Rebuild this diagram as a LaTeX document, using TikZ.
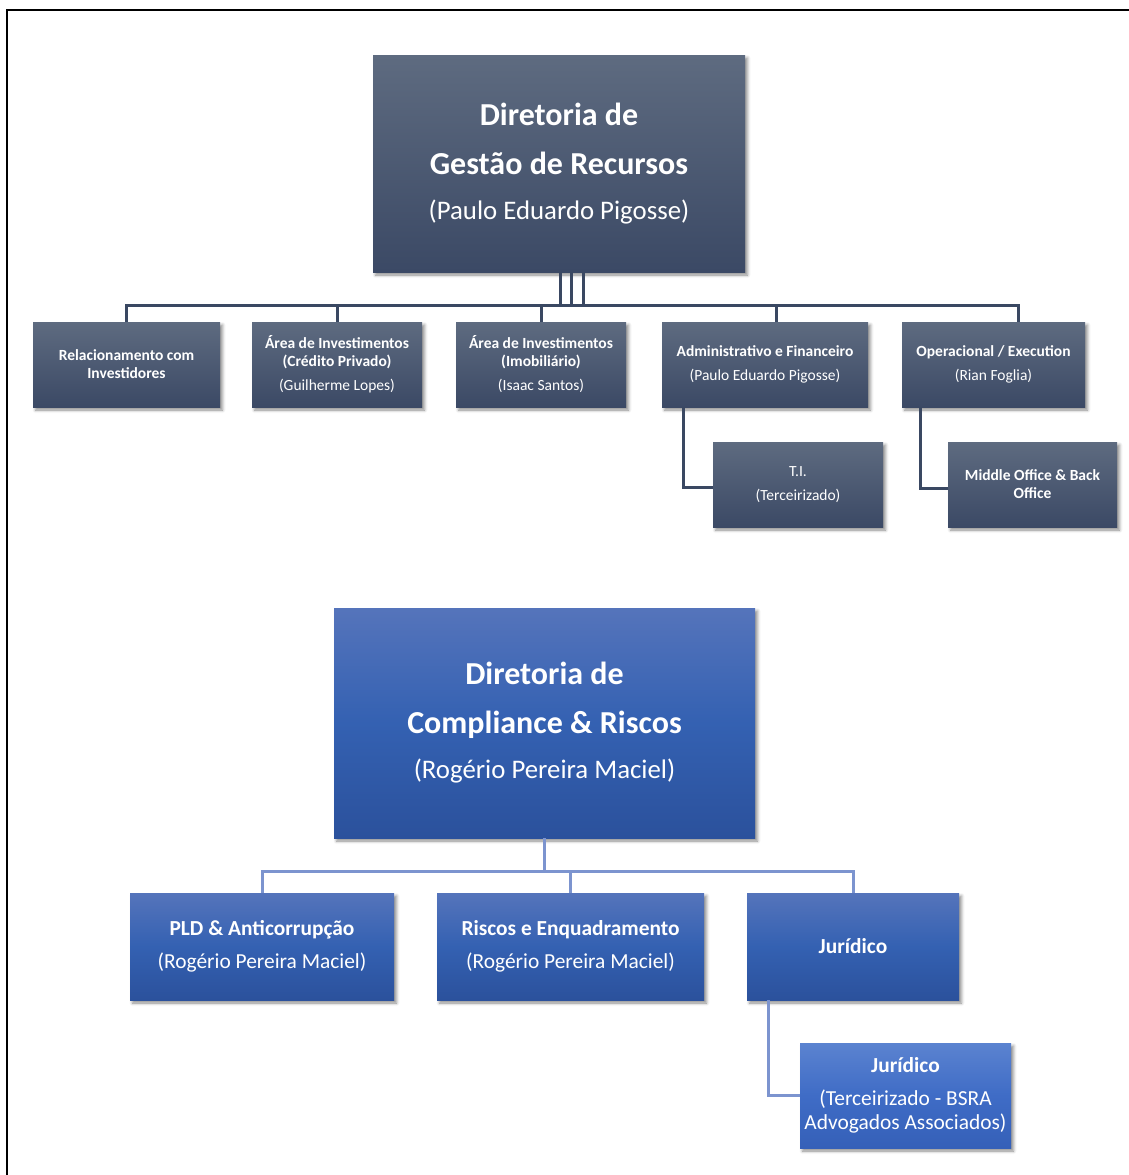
\documentclass[tikz,border=0pt]{standalone}
\usepackage{fontspec}
\setmainfont{Carlito}
\usetikzlibrary{shadows.blur}

\definecolor{gtop}{HTML}{5E6B80}
\definecolor{gbot}{HTML}{3B4965}
\definecolor{glink}{HTML}{3A4862}
\definecolor{ctop}{HTML}{5574BB}
\definecolor{cmid}{HTML}{3461B2}
\definecolor{cbot}{HTML}{2B519C}
\definecolor{jtop}{HTML}{5B83D0}
\definecolor{jmid}{HTML}{3F6CC6}
\definecolor{jbot}{HTML}{3560B8}
\definecolor{clink}{HTML}{7C94CF}

\begin{document}
\begin{tikzpicture}[x=1pt,y=-1pt,
  box/.style={rectangle,inner sep=0pt,text=white,align=center,
    blur shadow={shadow xshift=2.5pt,shadow yshift=-3pt,shadow blur radius=3pt,shadow opacity=45}},
  gbox/.style={box,top color=gtop,bottom color=gbot,font=\fontsize{15.5}{18}\selectfont},
  cbox/.style={box,top color=ctop,bottom color=cbot,middle color=cmid,font=\fontsize{21.4}{24}\selectfont},
  jbox/.style={box,top color=jtop,bottom color=jbot,middle color=jmid,font=\fontsize{21.4}{24}\selectfont},
  big/.style={font=\fontsize{26.8}{48}\selectfont},
  glnk/.style={draw=glink,line width=3pt},
  clnk/.style={draw=clink,line width=3pt}]
  \useasboundingbox (0,0) rectangle (1129,1175);
  \draw[line width=2pt] (7,1176) |- (1130,10);

  \node[gbox,big,minimum width=372pt,minimum height=217pt] (gest) at (559,163.5)
    {{\fontsize{32}{48}\selectfont\bfseries Diretoria de}\\[1pt]{\fontsize{32}{48}\selectfont\bfseries Gestão de Recursos}\\[-3pt](Paulo Eduardo Pigosse)};

  \node[gbox,minimum width=187pt,minimum height=85pt] (rel) at (126.5,364.5)
    {\textbf{Relacionamento com}\\\textbf{Investidores}};
  \node[gbox,minimum width=170pt,minimum height=85pt] (cred) at (337,364.5)
    {\textbf{Área de Investimentos}\\\textbf{(Crédito Privado)}\\[6pt](Guilherme Lopes)};
  \node[gbox,minimum width=170pt,minimum height=85pt] (imob) at (541,364.5)
    {\textbf{Área de Investimentos}\\\textbf{(Imobiliário)}\\[6pt](Isaac Santos)};
  \node[gbox,minimum width=206pt,minimum height=85pt] (adm) at (765,364.5)
    {\textbf{Administrativo e Financeiro}\\[6pt](Paulo Eduardo Pigosse)};
  \node[gbox,minimum width=183pt,minimum height=85pt] (oper) at (993.5,364.5)
    {\textbf{Operacional / Execution}\\[6pt](Rian Foglia)};
  \node[gbox,minimum width=170pt,minimum height=85pt] (ti) at (798,484.5)
    {T.I.\\[6pt](Terceirizado)};
  \node[gbox,minimum width=169pt,minimum height=85pt] (mid) at (1032.5,484.5)
    {\textbf{Middle Office \& Back}\\\textbf{Office}};

  \coordinate (gbar) at (559,305);
  \foreach \dx in {1,12,24}
    \draw[glnk] ([xshift=\dx pt]gest.south) -- ([xshift=\dx pt]gest.south |- gbar);
  \draw[glnk] (rel.north) |- (gbar);
  \draw[glnk] (cred.north) |- (gbar);
  \draw[glnk] (imob.north) |- (gbar);
  \draw[glnk] ([xshift=11pt]adm.north) |- (gbar);
  \draw[glnk] ([xshift=25pt]oper.north) |- (gbar);
  \draw[glnk] ([xshift=-82pt]adm.south) |- ([yshift=-3pt]ti.west);
  \draw[glnk] ([xshift=-73pt]oper.south) |- ([yshift=-4pt]mid.west);

  \node[cbox,big,minimum width=421pt,minimum height=230pt] (comp) at (544.5,723)
    {{\fontsize{32}{48}\selectfont\bfseries Diretoria de}\\[1pt]{\fontsize{32}{48}\selectfont\bfseries Compliance \& Riscos}\\[-3pt](Rogério Pereira Maciel)};

  \node[cbox,minimum width=264pt,minimum height=107pt] (pld) at (262,946.5)
    {\textbf{PLD \& Anticorrupção}\\[9pt](Rogério Pereira Maciel)};
  \node[cbox,minimum width=267pt,minimum height=107pt] (risc) at (570.5,946.5)
    {\textbf{Riscos e Enquadramento}\\[9pt](Rogério Pereira Maciel)};
  \node[cbox,minimum width=212pt,minimum height=107pt] (jur) at (853,946.5)
    {\textbf{Jurídico}};
  \node[jbox,minimum width=211pt,minimum height=105pt] (bsra) at (905.5,1095.5)
    {\textbf{Jurídico}\\[9pt](Terceirizado - BSRA\\Advogados Associados)};

  \coordinate (cbar) at (544.5,871);
  \draw[clnk] (comp.south) -- (cbar);
  \draw[clnk] (pld.north) |- (cbar);
  \draw[clnk] (risc.north) |- (cbar);
  \draw[clnk] (jur.north) |- (cbar);
  \draw[clnk] ([xshift=-85pt]jur.south) |- (bsra.west);
\end{tikzpicture}
\end{document}
